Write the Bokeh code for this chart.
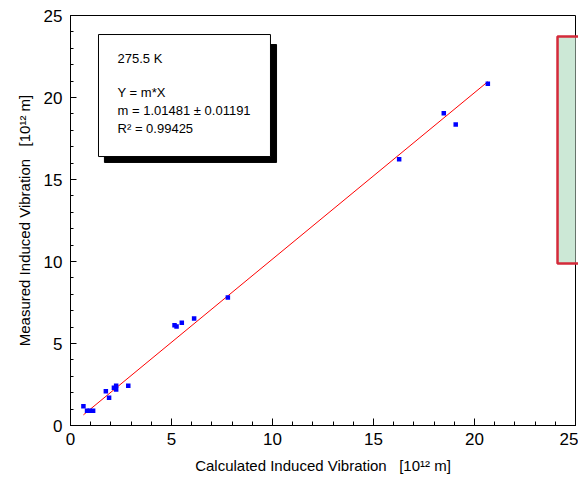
from bokeh.plotting import figure
from bokeh.models import Range1d, BoxAnnotation, Label, FixedTicker
from bokeh.embed import file_html
from bokeh.resources import INLINE

# Data
calc_x = [0.64, 0.82, 0.95, 1.12, 1.75, 1.91, 2.15, 2.26, 2.26, 2.86,
          5.15, 5.25, 5.51, 6.12, 7.79, 16.27, 18.48, 19.07, 20.66]
meas_y = [1.17, 0.90, 0.90, 0.90, 2.09, 1.69, 2.30, 2.42, 2.20, 2.42,
          6.12, 6.04, 6.26, 6.52, 7.80, 16.24, 19.04, 18.35, 20.84]
slope_m = 1.01481
slope_err = 0.01191
r_squared = 0.99425
temperature_label = "275.5 K"
major_ticks = [0, 5, 10, 15, 20, 25]
minor_ticks = list(range(0, 26))

FONT = "Liberation Sans"
GAP = "\u00a0\u00a0\u00a0"

p = figure(width=578, height=487, output_backend="svg", toolbar_location=None,
           x_range=Range1d(0, 25), y_range=Range1d(0, 25),
           min_border_left=70, min_border_right=3, min_border_top=15, min_border_bottom=62,
           x_axis_label="Calculated Induced Vibration" + GAP + "[10¹² m]",
           y_axis_label="Measured Induced Vibration" + GAP + "[10¹² m]")
p.xgrid.visible = False
p.ygrid.visible = False
p.outline_line_color = "black"
p.outline_line_width = 1
p.background_fill_color = "white"
p.border_fill_color = "white"

for ax in (p.xaxis[0], p.yaxis[0]):
    ax.ticker = FixedTicker(ticks=major_ticks, minor_ticks=minor_ticks)
    ax.axis_line_color = "black"
    ax.axis_line_width = 1
    ax.major_tick_out = 0
    ax.minor_tick_out = 0
    ax.major_tick_line_color = "black"
    ax.minor_tick_line_color = "black"
    ax.major_label_text_font = FONT
    ax.major_label_text_font_size = "17px"
    ax.major_label_text_color = "black"
    ax.axis_label_text_font = FONT
    ax.axis_label_text_font_size = "15px"
    ax.axis_label_text_font_style = "normal"
    ax.axis_label_text_color = "black"

p.xaxis[0].major_tick_in = 7
p.xaxis[0].minor_tick_in = 4
p.xaxis[0].major_label_standoff = 7
p.xaxis[0].axis_label_standoff = 9
p.yaxis[0].major_tick_in = 6
p.yaxis[0].minor_tick_in = 3
p.yaxis[0].major_label_standoff = 8
p.yaxis[0].axis_label_standoff = 8

# Fit line over the data range
fit_x = [min(calc_x), max(calc_x)]
fit_y = [slope_m * v for v in fit_x]
p.line(fit_x, fit_y, line_color="#FF0000", line_width=1)

p.scatter(calc_x, meas_y, marker="square", size=4.5, fill_color="#0000FF",
          line_color="#0000FF", line_width=0)

# Text box with shadow
shadow = BoxAnnotation(left=1.68, right=10.2, top=23.23, bottom=16.04,
                       fill_color="black", fill_alpha=1, line_color="black", line_alpha=1,
                       level="annotation")
box = BoxAnnotation(left=1.386, right=9.90, top=23.84, bottom=16.40,
                    fill_color="white", fill_alpha=1, line_color="black", line_width=1,
                    line_alpha=1, level="annotation")
p.add_layout(shadow)
p.add_layout(box)

lines = [
    (temperature_label, 22.38),
    ("Y = m*X", 20.30),
    (f"m = {slope_m:.5f} ± {slope_err:.5f}", 19.21),
    (f"R² = {r_squared:.5f}", 18.11),
]
for txt, yy in lines:
    p.add_layout(Label(x=2.33, y=yy, text=txt, text_font=FONT, text_font_size="13px",
                       text_baseline="middle", text_align="left", text_color="black",
                       level="overlay"))

# Green box at right edge (cut off by the frame edge, so no right border)
green = BoxAnnotation(left=24.11, right=25.6, top=23.72, bottom=9.88,
                      fill_color="#CCE8D6", fill_alpha=1, line_alpha=0,
                      level="annotation")
p.add_layout(green)
p.multi_line(xs=[[25.6, 24.11, 24.11, 25.6]], ys=[[23.72, 23.72, 9.88, 9.88]],
             line_color="#D42A3A", line_width=2.5, level="overlay")

open("out.html", "w").write(file_html(p, INLINE))
